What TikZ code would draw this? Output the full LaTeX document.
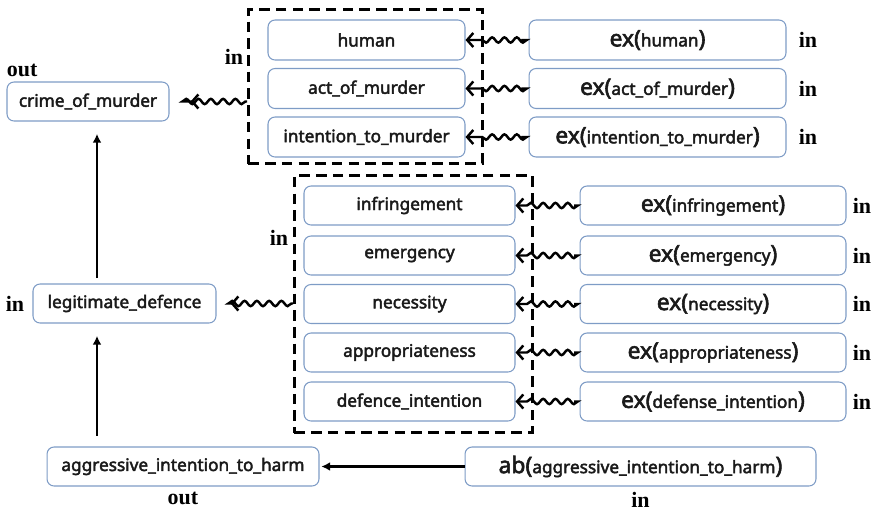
\documentclass[tikz,border=0pt]{standalone}
\usepackage{fontspec}
\setmainfont{Liberation Serif}
\setsansfont{Noto Sans}
\newfontfamily\boxfont[FakeBold=2.5]{Noto Sans}
\usepackage{tikz}
\usetikzlibrary{
  arrows.meta,
  positioning,
  fit,
  decorations.pathmorphing,
}
\definecolor{boxEdge}{HTML}{7E9CC6}
\definecolor{inkDark}{HTML}{1A1A1A}
\newcommand{\exOf}[2]{{\fontsize{13}{14}\selectfont #1(}#2{\fontsize{13}{14}\selectfont )}}
\tikzset{
  factbox/.style={
    rectangle, rounded corners=4pt, draw=boxEdge, line width=0.6pt,
    fill=white, inner sep=2pt, text=inkDark,
    font=\boxfont\fontsize{9.8}{11}\selectfont,
    minimum height=0.8cm, minimum width=3.94cm,
  },
  factboxMid/.style={
    factbox, minimum height=0.78cm, minimum width=4.22cm,
  },
  exbox/.style={
    factbox, minimum width=5.14cm,
  },
  exboxWide/.style={
    factbox, minimum height=0.78cm, minimum width=5.32cm,
  },
  groupbox/.style={
    rectangle, draw=black, line width=1.5pt, inner sep=0pt,
    dash pattern=on 6pt off 3.5pt,
  },
  tag/.style={
    inner sep=0pt, font=\bfseries\fontsize{12.5}{14}\selectfont,
  },
  arrowWavy/.style={
    -{Straight Barb[length=3.5pt,width=8pt]}, line width=1.4pt,
    decorate, decoration={snake, amplitude=1.5pt, segment length=7pt,
      pre length=1pt, post length=6pt},
  },
  arrowSolid/.style={
    -{Latex[length=5pt,width=5pt]}, line width=1.3pt,
  },
}

\begin{document}
\begin{tikzpicture}[x=0.02cm, y=-0.02cm]
\useasboundingbox (0,0) rectangle (879,511);

% elements of murder
\foreach \key/\lbl/\yy in {hum/human/40, act/act\_of\_murder/88.5,
  int/intention\_to\_murder/137}
{
  \node[factbox] (\key) at (366.5,\yy) {\lbl};
  \node[exbox] (ex\key) at (657.5,\yy) {\exOf{ex}{\lbl}};
  \node[tag, right=0.24cm of ex\key] {in};
  \draw[arrowWavy, shorten <=4pt] (ex\key) -- (\key);
}

% elements of legitimate defence
\foreach \key/\lbl/\exlbl/\yy in {inf/infringement/infringement/205.5,
  eme/emergency/emergency/255.5, nec/necessity/necessity/304,
  app/appropriateness/appropriateness/352.5,
  dfi/defence\_intention/defense\_intention/401.5}
{
  \node[factboxMid] (\key) at (409.5,\yy) {\lbl};
  \node[exboxWide] (ex\key) at (713,\yy) {\exOf{ex}{\exlbl}};
  \node[tag, right=0.12cm of ex\key] {in};
  \draw[arrowWavy, shorten <=3pt] (ex\key) -- (\key);
}

\node[groupbox, fit={([shift={(-19,-10)}]hum.north west) ([shift={(17,6)}]int.south east)}] (grpMurder) {};
\node[groupbox, fit={([shift={(-9,-10)}]inf.north west) ([shift={(17,11)}]dfi.south east)}] (grpDefence) {};
\node[tag] at (234,57) {in};
\node[tag] at (279,238) {in};

% conclusions
\node[factbox, minimum width=3.24cm, minimum height=0.78cm] (crime) at (88,101.5) {crime\_of\_murder};
\node[factbox, minimum width=3.66cm, minimum height=0.78cm] (legit) at (124.5,303.5) {legitimate\_defence};
\node[factbox, minimum width=5.44cm, minimum height=0.78cm] (agg) at (183,466.5) {aggressive\_intention\_to\_harm};
\node[exbox, minimum width=7.02cm, minimum height=0.78cm] (abAgg) at (640.5,466.5)
  {\exOf{ab}{aggressive\_intention\_to\_harm}};

\node[tag, above=0.08cm of crime.north west, anchor=south west] {out};
\node[tag, left=0.16cm of legit] {in};
\node[tag, below=0.1cm of agg] {out};
\node[tag, below=0.1cm of abAgg] {in};

\draw[arrowWavy, shorten >=12pt] (grpMurder.west |- crime) -- (crime);
\draw[arrowWavy, shorten >=8pt] (grpDefence.west |- legit) -- (legit);

\coordinate (spine) at (97,0);
\draw[arrowSolid, shorten <=3pt, shorten >=7pt] (legit.north -| spine) -- (crime.south -| spine);
\draw[arrowSolid, shorten <=6pt, shorten >=7pt] (agg.north -| spine) -- (legit.south -| spine);
\draw[arrowSolid, shorten >=1pt] (abAgg) -- (agg);

\end{tikzpicture}
\end{document}
